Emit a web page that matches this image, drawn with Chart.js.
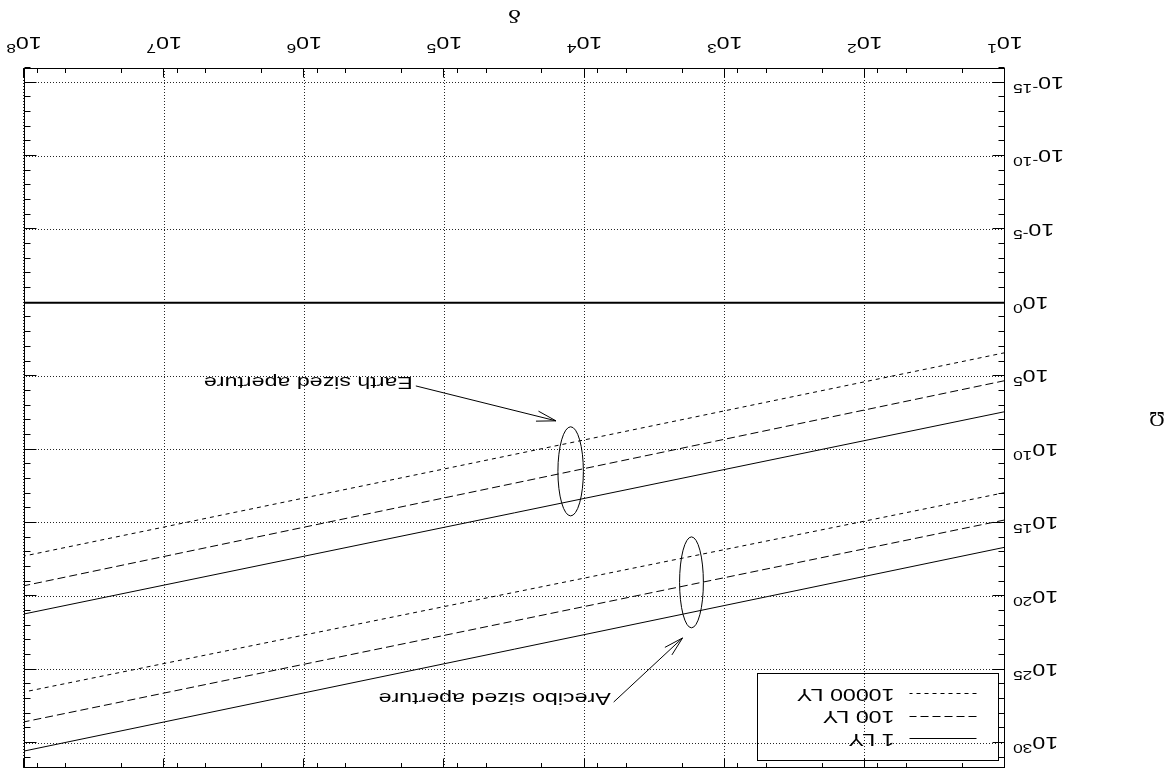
<!DOCTYPE html>
<html>
<head>
<meta charset="utf-8">
<script src="https://cdn.jsdelivr.net/npm/chart.js@4.4.0/dist/chart.umd.min.js"></script>
<style>
  html, body { margin: 0; padding: 0; background: #fff; }
  /* the reference figure is printed upside down */
  #wrap { width: 1169px; height: 776px; transform: rotate(180deg); }
</style>
</head>
<body>
<div id="wrap"><canvas id="chart" width="1169" height="776"></canvas></div>
<script>
// values (straight lines on log-log axes, end points)
const deltaEnds = [1e1, 1e8];
const earth1LY = [2.6e7, 1.6e21];
const earth100LY = [2.0e5, 1.9e19];
const earth10000LY = [2.5e3, 1.8e17];
const arecibo1LY = [4.5e16, 3.5e30];
const arecibo100LY = [6.2e14, 3.6e28];
const arecibo10000LY = [8.5e12, 3.3e26];
const unityLine = [1, 1];

const seriesLabels = ['1 LY', '100 LY', '10000 LY'];
const xTickExponents = [1, 2, 3, 4, 5, 6, 7, 8];
const yTickExponents = [-15, -10, -5, 0, 5, 10, 15, 20, 25, 30];
const xMinorFactors = [2, 5, 8];

const annotationTexts = ['Earth sized aperture', 'Arecibo sized aperture'];
// ellipse extents and arrows in data coordinates
const ellipseX = [[1.02e4, 1.55e4], [1.42e3, 2.1e3]];
const ellipseY = [[2.8e8, 3.3e14], [8.9e15, 1.4e22]];
const arrowFrom = [[1.6e5, 4.6e5], [6.2e3, 1.6e27]];
const arrowTo = [[1.6e4, 1.1e8], [2.0e3, 6.9e22]];

const FONT = '"Liberation Sans", Arial, sans-serif';
const FS = 16, SX = 1.45;
const dashes = [[], [8, 4], [4, 4]];

const xMajor = xTickExponents.map(e => Math.pow(10, e));
const xMinor = [];
xTickExponents.slice(0, -1).forEach(e => xMinorFactors.forEach(f => xMinor.push(f * Math.pow(10, e))));
const yMajor = yTickExponents.map(e => Math.pow(10, e));
const yMinor = [];
for (let e = -16; e <= 31; e++) if (e % 5 !== 0) yMinor.push(Math.pow(10, e));

function pts(arr) {
  return deltaEnds.map((x, i) => ({ x: x, y: arr[i] }));
}
function line(arr, k, width) {
  return {
    data: pts(arr),
    showLine: true,
    borderColor: '#000',
    borderWidth: width || 1,
    borderDash: dashes[k] || [],
    pointRadius: 0,
    fill: false
  };
}

// text stretched sideways, like the printed figure
function sText(ctx, str, x, y, size, align, family) {
  ctx.save();
  ctx.font = size + 'px ' + (family || FONT);
  const w = ctx.measureText(str).width * SX;
  const x0 = align === 'right' ? x - w : align === 'center' ? x - w / 2 : x;
  ctx.translate(x0, y);
  ctx.scale(SX, 1);
  ctx.textAlign = 'left';
  ctx.textBaseline = 'alphabetic';
  ctx.fillText(str, 0, 0);
  ctx.restore();
  return w;
}
function textWidth(ctx, str, size) {
  ctx.font = size + 'px ' + FONT;
  return ctx.measureText(str).width * SX;
}
function powerLabel(ctx, exp, x, y, align) {
  const es = FS * 0.75;
  const bw = textWidth(ctx, '10', FS);
  const ew = textWidth(ctx, String(exp), es);
  const tot = bw + ew;
  const x0 = align === 'right' ? x - tot : x - tot / 2;
  sText(ctx, '10', x0, y, FS, 'left');
  sText(ctx, String(exp), x0 + bw, y - FS * 0.42, es, 'left');
}

function ellipse(ctx, x, y, i) {
  const x1 = x.getPixelForValue(ellipseX[i][0]), x2 = x.getPixelForValue(ellipseX[i][1]);
  const y1 = y.getPixelForValue(ellipseY[i][0]), y2 = y.getPixelForValue(ellipseY[i][1]);
  ctx.beginPath();
  ctx.ellipse((x1 + x2) / 2, (y1 + y2) / 2, Math.abs(x2 - x1) / 2, Math.abs(y2 - y1) / 2, 0, 0, Math.PI * 2);
  ctx.stroke();
}
function arrow(ctx, x, y, i) {
  const sx = x.getPixelForValue(arrowFrom[i][0]), sy = y.getPixelForValue(arrowFrom[i][1]);
  const tx = x.getPixelForValue(arrowTo[i][0]), ty = y.getPixelForValue(arrowTo[i][1]);
  const ang = Math.atan2(ty - sy, tx - sx);
  const hl = 20, ha = 0.26;
  ctx.beginPath();
  ctx.moveTo(sx, sy);
  ctx.lineTo(tx, ty);
  ctx.moveTo(tx - hl * Math.cos(ang - ha), ty - hl * Math.sin(ang - ha));
  ctx.lineTo(tx, ty);
  ctx.lineTo(tx - hl * Math.cos(ang + ha), ty - hl * Math.sin(ang + ha));
  ctx.stroke();
  sText(ctx, annotationTexts[i], sx + 3, sy + FS * 0.36 + 3, FS, 'left');
}

const gnuplotDecor = {
  id: 'gnuplotDecor',
  afterDraw(chart) {
    const { ctx, chartArea: a, scales: { x, y } } = chart;
    ctx.save();
    ctx.strokeStyle = '#000';
    ctx.fillStyle = '#000';
    ctx.lineWidth = 1;
    ctx.setLineDash([]);
    const L = Math.round(a.left) + 0.5, R = Math.round(a.right) - 0.5;
    const T = Math.round(a.top) + 0.5, B = Math.round(a.bottom) - 0.5;
    ctx.strokeRect(L, T, R - L, B - T);

    // inward ticks on all four sides
    ctx.beginPath();
    const xt = xMajor.map(v => [v, 9]).concat(xMinor.map(v => [v, 4.5]));
    xt.forEach(([v, len]) => {
      const px = Math.round(x.getPixelForValue(v)) + 0.5;
      ctx.moveTo(px, B); ctx.lineTo(px, B - len);
      ctx.moveTo(px, T); ctx.lineTo(px, T + len);
    });
    const yt = yMajor.map(v => [v, 12]).concat(yMinor.map(v => [v, 6]));
    yt.forEach(([v, len]) => {
      const py = Math.round(y.getPixelForValue(v)) + 0.5;
      ctx.moveTo(L, py); ctx.lineTo(L + len, py);
      ctx.moveTo(R, py); ctx.lineTo(R - len, py);
    });
    ctx.stroke();

    // tick labels
    xTickExponents.forEach(e => powerLabel(ctx, e, x.getPixelForValue(Math.pow(10, e)), a.bottom + 31, 'center'));
    yTickExponents.forEach(e => powerLabel(ctx, e, a.left - 8, y.getPixelForValue(Math.pow(10, e)) + FS * 0.36, 'right'));

    // axis titles
    sText(ctx, 'δ', (a.left + a.right) / 2, a.bottom + 58, 19, 'center', '"Liberation Serif", serif');
    ctx.save();
    ctx.font = '21px "Liberation Serif", serif';
    ctx.textAlign = 'center';
    ctx.textBaseline = 'middle';
    ctx.fillText('Ω', 12, (a.top + a.bottom) / 2);
    ctx.restore();

    // ellipses, arrows, labels
    for (let i = 0; i < annotationTexts.length; i++) {
      ellipse(ctx, x, y, i);
      arrow(ctx, x, y, i);
    }

    // key
    const kx = Math.round(a.left) + 6.5, ky = Math.round(a.top) + 7.5;
    ctx.strokeRect(kx, ky, 241, 87);
    seriesLabels.forEach((lab, k) => {
      const ly = ky + 21 + k * 22.5;
      ctx.save();
      ctx.setLineDash(dashes[k]);
      ctx.beginPath();
      ctx.moveTo(kx + 22, Math.round(ly) + 0.5);
      ctx.lineTo(kx + 89, Math.round(ly) + 0.5);
      ctx.stroke();
      ctx.restore();
      sText(ctx, lab, kx + 104, ly + FS * 0.36, FS, 'left');
    });
    ctx.restore();
  }
};

new Chart(document.getElementById('chart').getContext('2d'), {
  type: 'scatter',
  data: {
    datasets: [
      line(earth1LY, 0), line(earth100LY, 1), line(earth10000LY, 2),
      line(arecibo1LY, 0), line(arecibo100LY, 1), line(arecibo10000LY, 2),
      line(unityLine, 0, 2)
    ]
  },
  options: {
    responsive: false,
    animation: false,
    layout: { padding: { left: 164, right: 24, top: 8, bottom: 68 } },
    plugins: { legend: { display: false }, tooltip: { enabled: false } },
    scales: {
      x: {
        type: 'logarithmic',
        min: 1e1,
        max: 1e8,
        afterBuildTicks: s => { s.ticks = xMajor.map(v => ({ value: v })); },
        ticks: { display: false },
        grid: { color: 'rgba(0,0,0,0.85)', lineWidth: 1, drawTicks: false },
        border: { display: false, dash: [1, 2] }
      },
      y: {
        type: 'logarithmic',
        min: 1e-16,
        max: 5e31,
        afterBuildTicks: s => { s.ticks = yMajor.map(v => ({ value: v })); },
        ticks: { display: false },
        grid: { color: 'rgba(0,0,0,0.85)', lineWidth: 1, drawTicks: false },
        border: { display: false, dash: [1, 2] }
      }
    }
  },
  plugins: [gnuplotDecor]
});
</script>
</body>
</html>
